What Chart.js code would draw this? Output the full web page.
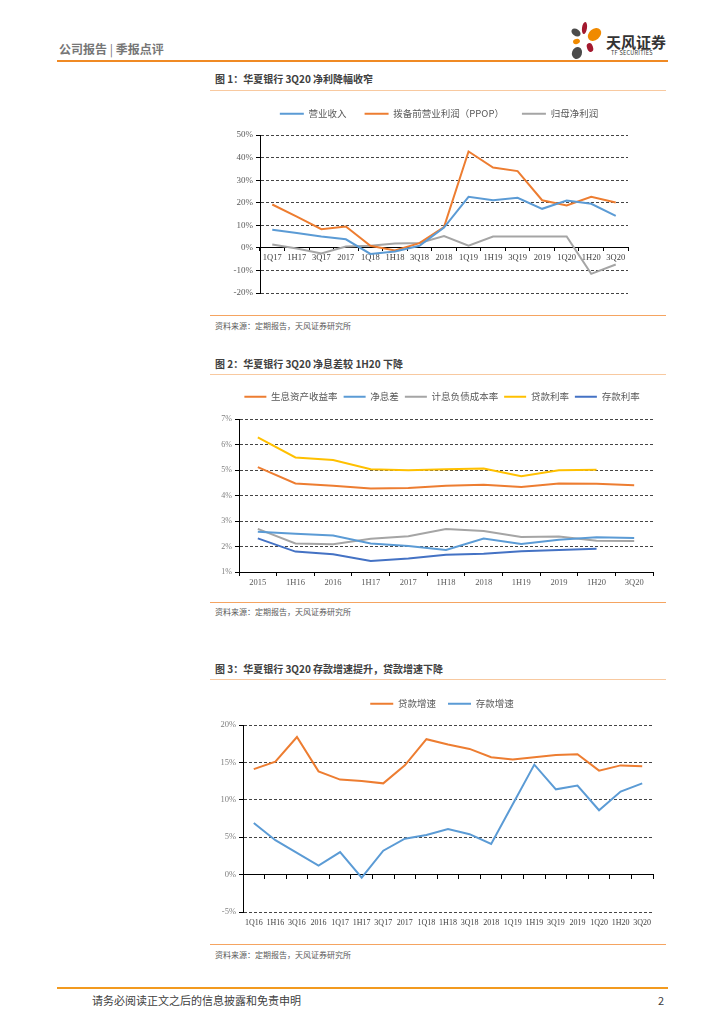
<!DOCTYPE html>
<html>
<head>
<meta charset="utf-8">
<script src="https://cdn.jsdelivr.net/npm/chart.js@4.4.1/dist/chart.umd.min.js"></script>
<style>
body{margin:0;width:724px;height:1024px;background:#fff;position:relative;overflow:hidden;font-family:"Noto Sans CJK SC",sans-serif}
.a{position:absolute;white-space:nowrap;line-height:14px}
.title{left:215px;font-size:10px;font-weight:bold;color:#404040}
.rule{position:absolute;left:210px;width:456px;height:0;border-top:1.5px solid #F8C9A0}
.srcrule{position:absolute;left:210px;width:456px;height:0;border-top:1.5px solid #F5A461}
.src{left:215px;font-size:8px;color:#595959}
canvas{position:absolute}
.petal{position:absolute;border-radius:50%}
</style>
</head>
<body>

<div class="a" style="left:59px;top:42px;font-size:12px;font-weight:bold;color:#767676">公司报告 <span style="font-weight:normal">|</span> 季报点评</div>
<div style="position:absolute;left:57px;top:60px;width:611px;height:2px;background:#F08A24"></div>

<div class="petal" style="left:582px;top:22px;width:5px;height:12px;background:#A3192F;transform:rotate(8deg)"></div>
<div class="petal" style="left:571px;top:29px;width:10px;height:7px;background:#4B4B4B;transform:rotate(35deg)"></div>
<div class="petal" style="left:587px;top:29px;width:15px;height:11px;background:#F08A00;transform:rotate(-40deg)"></div>
<div class="petal" style="left:573px;top:39px;width:7px;height:5px;background:#F08A00;transform:rotate(-15deg)"></div>
<div class="petal" style="left:587px;top:43px;width:6px;height:9px;background:#A3192F;transform:rotate(-20deg)"></div>
<div class="petal" style="left:572px;top:47px;width:10px;height:12px;background:#4B4B4B;transform:rotate(20deg)"></div>
<div class="a" style="left:606px;top:33px;font-size:15px;font-weight:bold;color:#333;line-height:17px">天风证券</div>
<div class="a" style="left:611px;top:50px;font-size:5.5px;color:#333;line-height:7px;letter-spacing:0.3px">TF SECURITIES</div>

<div class="a title" style="top:72px">图 1：华夏银行 3Q20 净利降幅收窄</div>
<div class="rule" style="top:90px"></div>
<canvas id="c1" width="430" height="210" style="left:200px;top:91px"></canvas>
<div class="srcrule" style="top:315px"></div>
<div class="a src" style="top:319px">资料来源：定期报告，天风证券研究所</div>

<div class="a title" style="top:357px">图 2：华夏银行 3Q20 净息差较 1H20 下降</div>
<div class="rule" style="top:374px"></div>
<canvas id="c2" width="455" height="206" style="left:200px;top:386px"></canvas>
<div class="srcrule" style="top:602px"></div>
<div class="a src" style="top:605px">资料来源：定期报告，天风证券研究所</div>

<div class="a title" style="top:662px">图 3：华夏银行 3Q20 存款增速提升，贷款增速下降</div>
<div class="rule" style="top:679px"></div>
<canvas id="c3" width="455" height="247" style="left:200px;top:687px"></canvas>
<div class="srcrule" style="top:944px"></div>
<div class="a src" style="top:948px">资料来源：定期报告，天风证券研究所</div>

<div style="position:absolute;left:57px;top:987px;width:611px;height:2px;background:#F29A1F"></div>
<div class="a" style="left:92px;top:992px;font-size:11px;color:#404040;line-height:16px">请务必阅读正文之后的信息披露和免责申明</div>
<div class="a" style="left:658px;top:992px;font-size:11px;color:#404040;line-height:16px">2</div>

<script>
// 图1
var q1Labels = ['1Q17','1H17','3Q17','2017','1Q18','1H18','3Q18','2018','1Q19','1H19','3Q19','2019','1Q20','1H20','3Q20'];
var revenue = [8.0, 6.6, 5.0, 3.8, -2.7, -1.6, 0.9, 9.0, 22.6, 21.1, 22.2, 17.3, 21.0, 19.5, 14.2];
var ppop = [19.2, 13.8, 8.3, 9.5, 0.9, -1.2, 2.1, 9.2, 42.7, 35.6, 34.0, 21.1, 18.8, 22.6, 20.1];
var netProfit = [1.5, -0.3, -2.5, 0.6, 0.9, 1.9, 2.2, 5.2, 1.0, 5.0, 5.0, 5.0, 5.0, -11.5, -7.4];

// 图2
var rateLabels = ['2015','1H16','2016','1H17','2017','1H18','2018','1H19','2019','1H20','3Q20'];
var assetYield = [5.11, 4.47, 4.38, 4.27, 4.29, 4.38, 4.42, 4.33, 4.47, 4.46, 4.40];
var nim = [2.58, 2.50, 2.43, 2.12, 2.02, 1.86, 2.31, 2.10, 2.26, 2.36, 2.33];
var liabCost = [2.69, 2.12, 2.09, 2.30, 2.40, 2.69, 2.61, 2.37, 2.39, 2.23, 2.22];
var loanRate = [6.28, 5.49, 5.39, 5.03, 4.99, 5.03, 5.06, 4.76, 4.99, 5.01, null];
var depositRate = [2.32, 1.80, 1.70, 1.43, 1.53, 1.68, 1.72, 1.81, 1.86, 1.91, null];

// 图3
var growthLabels = ['1Q16','1H16','3Q16','2016','1Q17','1H17','3Q17','2017','1Q18','1H18','3Q18','2018','1Q19','1H19','3Q19','2019','1Q20','1H20','3Q20'];
var loanGrowth = [14.1, 15.1, 18.4, 13.8, 12.7, 12.5, 12.2, 14.6, 18.1, 17.4, 16.8, 15.7, 15.4, 15.7, 16.0, 16.1, 13.9, 14.6, 14.5];
var depositGrowth = [6.9, 4.6, 2.9, 1.2, 3.0, -0.4, 3.2, 4.8, 5.3, 6.1, 5.4, 4.1, 9.4, 14.7, 11.4, 11.9, 8.6, 11.1, 12.2];

var cjk = '"Noto Sans CJK SC", sans-serif';
var serif = '"Liberation Serif", serif';

// legend sits higher than the plot and a bit off centre: pad its box and nudge it sideways
function legendTweak(extra, dx) {
    return {
        id: 'legendTweak',
        beforeInit: function (chart) {
            var lg = chart.legend, fit = lg.fit, draw = lg.draw;
            lg.fit = function () {
                fit.call(lg);
                lg.height += extra;
            };
            lg.draw = function (area) {
                lg.left += dx; lg.right += dx;
                draw.call(lg, area);
                lg.left -= dx; lg.right -= dx;
            };
        }
    };
}

function lineSet(label, data, color) {
    return {
        label: label, data: data,
        borderColor: color, backgroundColor: color,
        borderWidth: 2, pointRadius: 0, pointHoverRadius: 0,
        pointBorderWidth: 2, tension: 0
    };
}

function legendOpts(pad, boxW) {
    return {
        position: 'top',
        labels: {
            usePointStyle: true, pointStyle: 'line', pointStyleWidth: boxW,
            padding: pad, color: '#595959',
            font: { family: cjk, size: 9.5 }
        }
    };
}

function yAxis(min, max, step, w, size, color) {
    return {
        min: min, max: max,
        ticks: { stepSize: step, padding: 3, color: color, font: { family: serif, size: size },
            callback: function (v) { return v + '%'; } },
        grid: { color: '#444', tickColor: '#000', tickLength: 4 },
        border: { color: '#000', dash: [3, 2] },
        afterFit: function (s) { s.width = w; s.paddingTop = 0; s.paddingBottom = 0; }
    };
}

var base = { responsive: false, animation: false, events: [] };

new Chart(document.getElementById('c1'), {
    type: 'line',
    data: {
        labels: q1Labels,
        datasets: [
            lineSet('营业收入', revenue, '#5B9BD5'),
            lineSet('拨备前营业利润（PPOP）', ppop, '#ED7D31'),
            lineSet('归母净利润', netProfit, '#A5A5A5')
        ]
    },
    options: Object.assign({}, base, {
        layout: { padding: { left: 0, right: 2, top: 0, bottom: 8 } },
        plugins: { legend: legendOpts(18, 24), tooltip: { enabled: false } },
        scales: {
            x: {
                offset: true, position: { y: 0 },
                grid: { offset: true, drawOnChartArea: false, color: '#000', tickLength: 3 },
                border: { color: '#000' },
                ticks: { autoSkip: false, maxRotation: 0, padding: 2, color: '#404040', font: { family: serif, size: 8.5 } }
            },
            y: yAxis(-20, 50, 10, 60, 9, '#595959')
        }
    }),
    plugins: [legendTweak(6.5, 25)]
});

new Chart(document.getElementById('c2'), {
    type: 'line',
    data: {
        labels: rateLabels,
        datasets: [
            lineSet('生息资产收益率', assetYield, '#ED7D31'),
            lineSet('净息差', nim, '#5B9BD5'),
            lineSet('计息负债成本率', liabCost, '#A5A5A5'),
            lineSet('贷款利率', loanRate, '#FFC000'),
            lineSet('存款利率', depositRate, '#4472C4')
        ]
    },
    options: Object.assign({}, base, {
        layout: { padding: { left: 0, right: 2, top: 0, bottom: 0 } },
        plugins: { legend: legendOpts(6, 22), tooltip: { enabled: false } },
        scales: {
            x: {
                offset: true,
                grid: { offset: true, drawOnChartArea: false, color: '#000', tickLength: 4 },
                border: { color: '#000' },
                ticks: { autoSkip: false, maxRotation: 0, padding: 2, color: '#595959', font: { family: serif, size: 8.5 } },
                afterFit: function (s) { s.height = 20; s.paddingLeft = 0; s.paddingRight = 0; }
            },
            y: yAxis(1, 7, 1, 39, 8, '#7F7F7F')
        }
    }),
    plugins: [legendTweak(7.5, 15.5)]
});

new Chart(document.getElementById('c3'), {
    type: 'line',
    data: {
        labels: growthLabels,
        datasets: [
            lineSet('贷款增速', loanGrowth, '#ED7D31'),
            lineSet('存款增速', depositGrowth, '#5B9BD5')
        ]
    },
    options: Object.assign({}, base, {
        layout: { padding: { left: 0, right: 2, top: 0, bottom: 4 } },
        plugins: { legend: legendOpts(12, 23), tooltip: { enabled: false } },
        scales: {
            x: {
                offset: true,
                grid: { display: false, drawTicks: false, tickLength: 0 },
                border: { display: false },
                ticks: { autoSkip: false, maxRotation: 0, padding: 6, color: '#404040', font: { family: serif, size: 8 } },
                afterFit: function (s) { s.height = 18; s.paddingLeft = 0; s.paddingRight = 0; }
            },
            x2: {
                type: 'category', axis: 'x', offset: true, position: { y: 0 },
                grid: { offset: true, drawOnChartArea: false, color: '#000', tickLength: 4 },
                border: { color: '#000' },
                ticks: { display: false }
            },
            y: yAxis(-5, 20, 5, 43, 8.5, '#7F7F7F')
        }
    }),
    plugins: [legendTweak(6.5, 15.5)]
});
</script>
</body>
</html>
